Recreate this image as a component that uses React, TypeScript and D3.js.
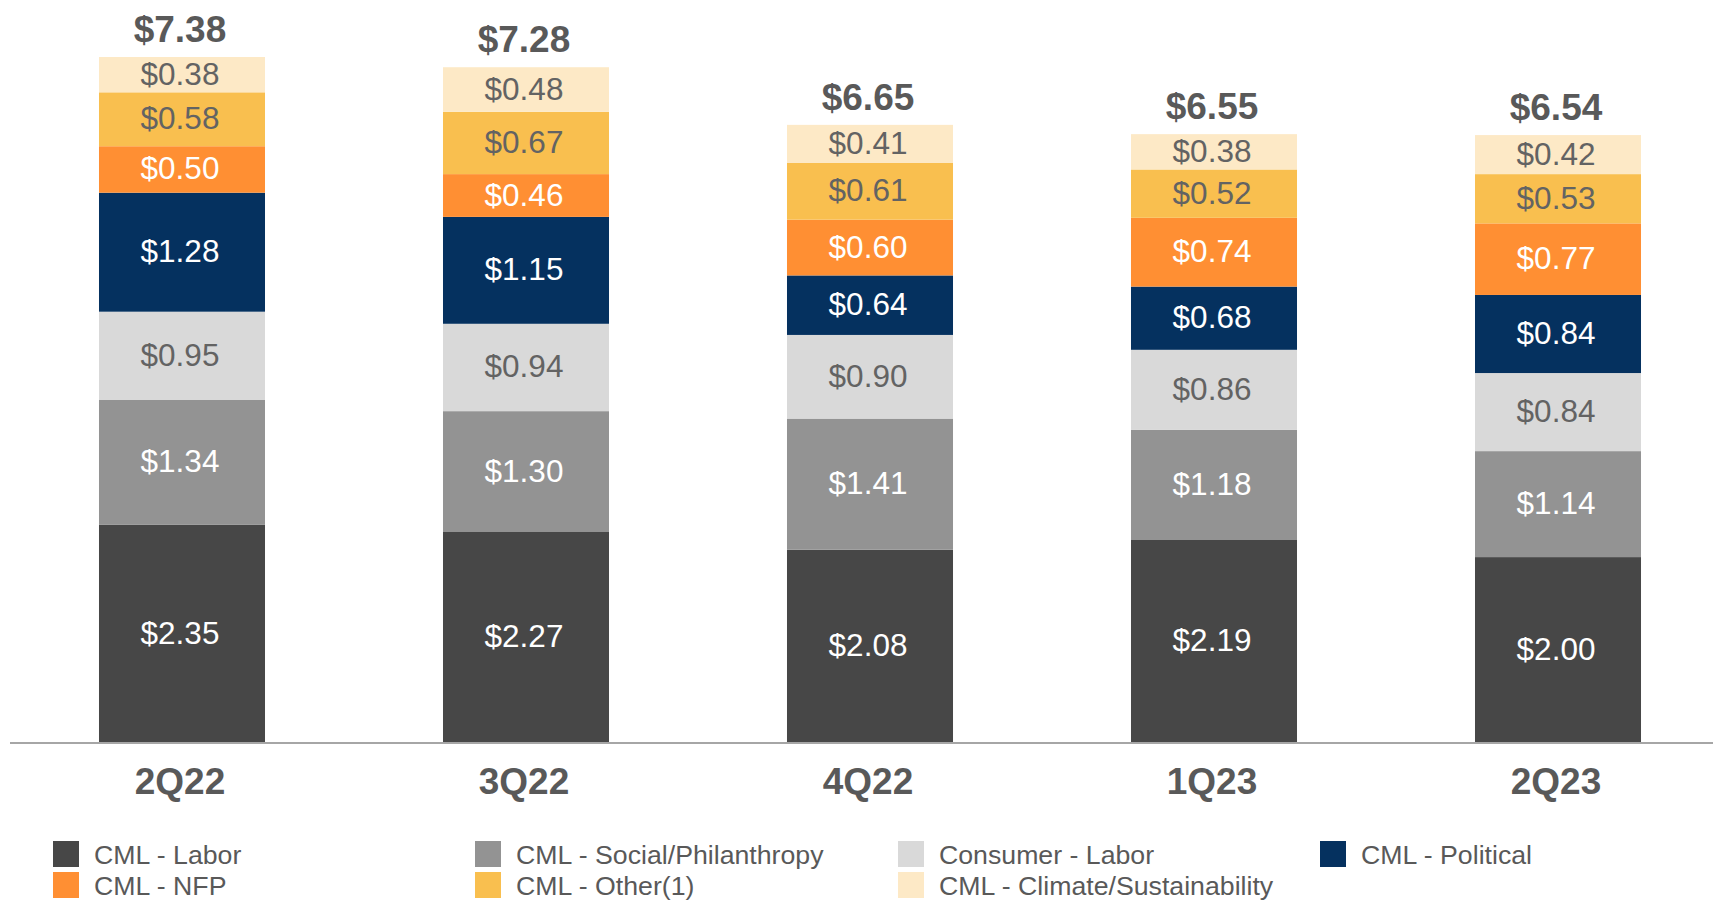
import React from 'react'
import {scaleBand, scaleLinear, stack} from 'd3'

const quarters = ['2Q22', '3Q22', '4Q22', '1Q23', '2Q23']
const totals = ['$7.38', '$7.28', '$6.65', '$6.55', '$6.54']

const seriesNames = [
  'CML - Labor',
  'CML - Social/Philanthropy',
  'Consumer - Labor',
  'CML - Political',
  'CML - NFP',
  'CML - Other(1)',
  'CML - Climate/Sustainability'
]
const cmlLabor = [2.35, 2.27, 2.08, 2.19, 2.0]
const cmlSocial = [1.34, 1.3, 1.41, 1.18, 1.14]
const consumerLabor = [0.95, 0.94, 0.9, 0.86, 0.84]
const cmlPolitical = [1.28, 1.15, 0.64, 0.68, 0.84]
const cmlNfp = [0.5, 0.46, 0.6, 0.74, 0.77]
const cmlOther = [0.58, 0.67, 0.61, 0.52, 0.53]
const cmlClimate = [0.38, 0.48, 0.41, 0.38, 0.42]

const colors = ['#474747', '#939393', '#d9d9d9', '#05315f', '#ff8f33', '#f9bf4f', '#fde9c6']
const labelColors = ['#fff', '#fff', '#636363', '#fff', '#fff', '#636363', '#636363']

// legend is laid out in two rows, 4 columns
const legendOrder = [0, 1, 2, 3, 4, 5, 6]
const legendCols = [53, 475, 898, 1320]

const W = 1713
const H = 900

export default function App() {
  const seriesValues = [cmlLabor, cmlSocial, consumerLabor, cmlPolitical, cmlNfp, cmlOther, cmlClimate]
  const rows = quarters.map((q, i) => {
    const r: any = {q}
    seriesNames.forEach((s, j) => (r[s] = seriesValues[j][i]))
    return r
  })
  const stacked = stack().keys(seriesNames)(rows)

  const x = scaleBand()
    .domain(quarters)
    .range([9, 1731])
    .paddingInner(0.5174)
    .paddingOuter(0.2616)

  const y = scaleLinear().domain([0, 7.38]).range([743, 57])
  const cx = (q: string) => x(q) + x.bandwidth() / 2 - 2

  return (
    <svg
      width={W}
      height={H}
      style={{position: 'fixed', top: 0, left: 0, background: '#fff'}}
      fontFamily="'Liberation Sans', Arial, sans-serif"
    >
      {stacked.map((layer, j) => (
        <g key={layer.key}>
          {layer.map((d: any, i) => {
            const y0 = y(d[1])
            const h = y(d[0]) - y(d[1])
            return (
              <g key={i}>
                <rect x={x(quarters[i])} y={y0} width={x.bandwidth()} height={h} fill={colors[j]} />
                <text
                  x={cx(quarters[i])}
                  y={y0 + h / 2 + 10}
                  textAnchor="middle"
                  fontSize={31.5}
                  fill={labelColors[j]}
                >
                  ${seriesValues[j][i].toFixed(2)}
                </text>
              </g>
            )
          })}
        </g>
      ))}

      {quarters.map((q, i) => {
        const top = stacked[stacked.length - 1][i][1]
        return (
          <text
            key={q}
            x={cx(q)}
            y={y(top) - 15}
            textAnchor="middle"
            fontSize={37}
            fontWeight="bold"
            fill="#595959"
          >
            {totals[i]}
          </text>
        )
      })}

      <line x1={10} x2={W} y1={743} y2={743} stroke="#a6a6a6" strokeWidth={2} />

      {quarters.map(q => (
        <text
          key={q}
          x={cx(q)}
          y={794}
          textAnchor="middle"
          fontSize={37}
          fontWeight="bold"
          fill="#595959"
        >
          {q}
        </text>
      ))}

      {legendOrder.map((s, k) => {
        const col = k % 4
        const row = Math.floor(k / 4)
        const lx = legendCols[col]
        const ly = 841 + row * 31
        return (
          <g key={s}>
            <rect x={lx} y={ly} width={26} height={26} fill={colors[s]} />
            <text x={lx + 41} y={ly + 23} fontSize={26.7} fill="#595959">
              {seriesNames[s]}
            </text>
          </g>
        )
      })}
    </svg>
  )
}
